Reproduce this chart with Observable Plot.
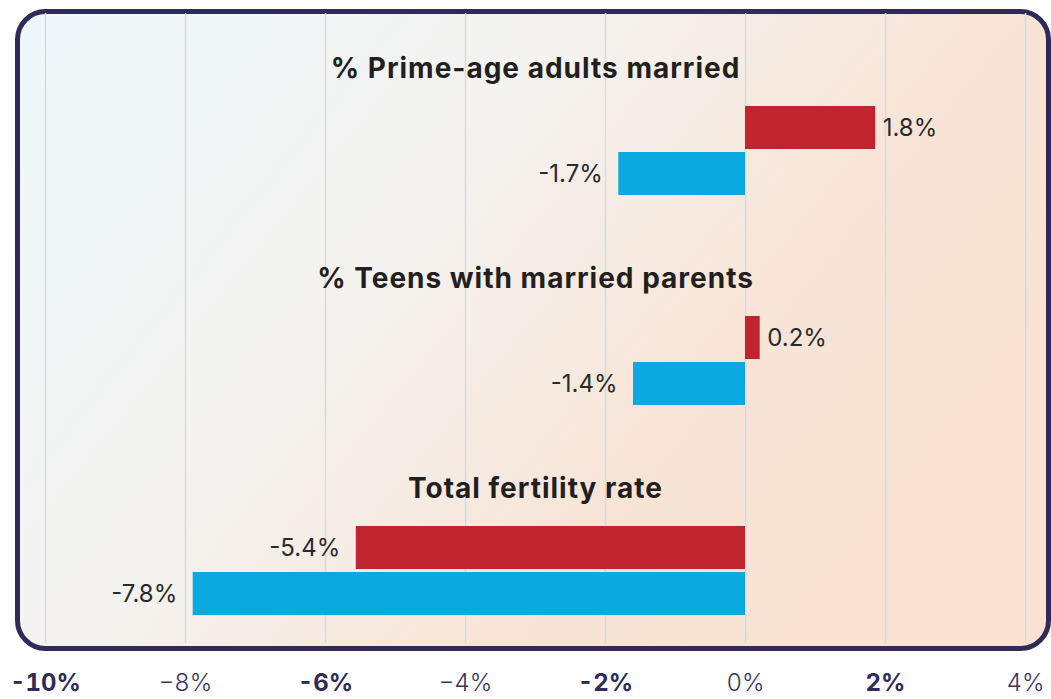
<!DOCTYPE html>
<html><head><meta charset="utf-8">
<script src="https://cdn.jsdelivr.net/npm/d3@7"></script>
<script src="https://cdn.jsdelivr.net/npm/@observablehq/plot@0.6"></script>
<style>body{margin:0;background:#fff;} #chart{width:1051px;height:699px;}</style>
</head><body><div id="chart"></div>
<script>
const categories = ["% Prime-age adults married", "% Teens with married parents", "Total fertility rate"];
const seriesNames = ["Series A", "Series B"];
const seriesColors = ["#c0242f", "#0aa9df"];
const barValuesA = [1.86, 0.21, -5.56];
const barValuesB = [-1.81, -1.6, -7.89];
const labelsA = ["1.8%", "0.2%", "-5.4%"];
const labelsB = ["-1.7%", "-1.4%", "-7.8%"];
const tickValues = [-10, -8, -6, -4, -2, 0, 2, 4];
const tickLabels = ["-10%", "−8%", "-6%", "−4%", "-2%", "0%", "2%", "4%"];
const boldTicks = [-10, -6, -2, 2];
const normalTicks = [-8, -4, 0, 4];

const rows = categories.flatMap((c, i) => [
  {cat: c, series: seriesNames[0], value: barValuesA[i], label: labelsA[i]},
  {cat: c, series: seriesNames[1], value: barValuesB[i], label: labelsB[i]}
]);
const fmt = d => tickLabels[tickValues.indexOf(d)];

const plot = Plot.plot({
  width: 1051, height: 699,
  marginTop: 13, marginBottom: 56, marginLeft: 45, marginRight: 26,
  style: {background: "transparent", fontFamily: "Inter, sans-serif", overflow: "visible"},
  x: {domain: [-10, 4], axis: null},
  y: {domain: seriesNames, axis: null, insetTop: 93, insetBottom: 28, paddingInner: 0.07, paddingOuter: 0},
  fy: {domain: categories, axis: null, padding: 0},
  color: {domain: seriesNames, range: seriesColors},
  marks: [
    Plot.ruleX(tickValues, {stroke: "#dadada", strokeWidth: 1.5}),
    Plot.barX(rows, {x: "value", y: "series", fy: "cat", fill: "series"}),
    Plot.text(categories, {fy: d => d, text: d => d, frameAnchor: "top", dy: 45, fontSize: 28, fontWeight: 700, fill: "#231f20"}),
    Plot.text(rows.filter(d => d.value > 0), {x: "value", y: "series", fy: "cat", text: "label", textAnchor: "start", dx: 7, fontSize: 24, fill: "#2a2a2a"}),
    Plot.text(rows.filter(d => d.value < 0), {x: "value", y: "series", fy: "cat", text: "label", textAnchor: "end", dx: -16, fontSize: 24, fill: "#2a2a2a"}),
    Plot.axisX(boldTicks, {tickSize: 0, tickPadding: 30, fontSize: 24, fontWeight: 700, fill: "#2f2a57", tickFormat: fmt, label: null}),
    Plot.axisX(normalTicks, {tickSize: 0, tickPadding: 30, fontSize: 24, fontWeight: 300, fill: "#3a355f", tickFormat: fmt, label: null})
  ]
});

const svg = d3.select(plot);
svg.selectAll("text").filter(function () { return categories.includes(this.textContent); })
  .attr("letter-spacing", 1);
svg.insert("rect", ":first-child")
  .attr("x", 17.5).attr("y", 11.5).attr("width", 1031).attr("height", 637)
  .attr("rx", 28).attr("fill", "url(#bgGrad)")
  .attr("stroke", "#2f2a57").attr("stroke-width", 5);
const defs = svg.insert("defs", ":first-child");
const g = defs.append("linearGradient").attr("id", "bgGrad")
  .attr("x1", 0).attr("y1", 0).attr("x2", 1).attr("y2", 0.5);
[[0, "#eef8fb"], [0.45, "#f4f2ef"], [0.75, "#f8e5d8"], [1, "#f9e2d3"]].forEach(([o, c]) =>
  g.append("stop").attr("offset", o).attr("stop-color", c));

document.getElementById("chart").appendChild(plot);
</script>
</body></html>
